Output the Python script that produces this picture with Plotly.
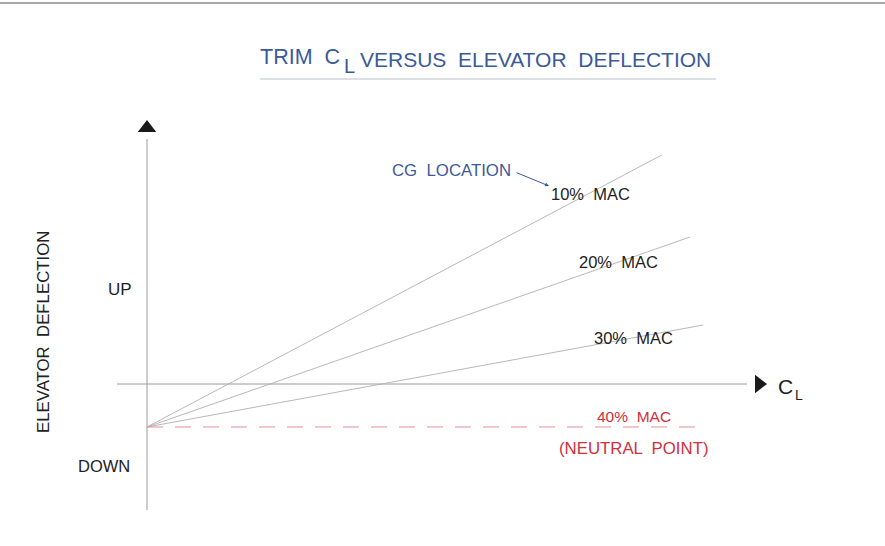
import plotly.graph_objects as go

# CG location series: lift coefficient end point and elevator deflection (arbitrary units)
cg_labels = ["10%  MAC", "20%  MAC", "30%  MAC", "40%  MAC"]
cl_start = [0.0, 0.0, 0.0, 0.0]
cl_end = [0.858, 0.905, 0.927, 0.932]
defl_start = [-0.43, -0.43, -0.43, -0.43]
defl_end = [2.29, 1.47, 0.59, -0.43]

W, H = 885, 546
# axis ranges (CL units horizontally, deflection units vertically)
x_rng = [-0.245, 1.23]
y_rng = [-1.62, 3.84]

fig = go.Figure()

AX = "#9a9a9a"
# coordinate axes
fig.add_trace(go.Scatter(x=[0, 0], y=[-1.26, 2.45], mode="lines",
                         line=dict(color=AX, width=1), hoverinfo="skip", showlegend=False))
fig.add_trace(go.Scatter(x=[-0.05, 1.0], y=[0, 0], mode="lines",
                         line=dict(color=AX, width=1), hoverinfo="skip", showlegend=False))
# arrow heads
fig.add_trace(go.Scatter(x=[0], y=[2.56], mode="markers",
                         marker=dict(symbol="triangle-up", size=16, color="#1a1a1a"),
                         hoverinfo="skip", showlegend=False))
fig.add_trace(go.Scatter(x=[1.02], y=[0], mode="markers",
                         marker=dict(symbol="triangle-right", size=16, color="#1a1a1a"),
                         hoverinfo="skip", showlegend=False))

for i, lab in enumerate(cg_labels):
    if i < 3:
        ln = dict(color="#b0b0b0", width=0.9)
    else:
        ln = dict(color="#e89090", width=1, dash="16px,12px")
    fig.add_trace(go.Scatter(x=[cl_start[i], cl_end[i]], y=[defl_start[i], defl_end[i]],
                             mode="lines", line=ln, hoverinfo="skip", showlegend=False))

FONT = "Liberation Sans, Arial, sans-serif"
BLUE = "#3b5a9a"
RED = "#d0303a"

def px2x(p):
    return x_rng[0] + (x_rng[1] - x_rng[0]) * p / W

def px2y(p):
    return y_rng[1] - (y_rng[1] - y_rng[0]) * p / H

ann = []
def add(text, px, py, color="#222", size=15, xanchor="left", angle=0):
    ann.append(dict(text=text, x=px2x(px), y=px2y(py), xref="x", yref="y",
                    showarrow=False, xanchor=xanchor, yanchor="middle", textangle=angle,
                    font=dict(family=FONT, size=size, color=color)))

add("10%  MAC", 549, 194, size=16.5)
add("20%  MAC", 577, 262, size=16.5)
add("30%  MAC", 592, 338, size=16.5)
add("40%  MAC", 595, 416, color=RED, size=15.5)
add("(NEUTRAL  POINT)", 557, 448, color=RED, size=16.8)
add("CG  LOCATION", 390, 170, color=BLUE, size=16.8)
add("UP", 106, 289, size=17)
add("DOWN", 76, 466, size=16.5)
add("ELEVATOR  DEFLECTION", 43, 332, size=16.8, xanchor="center", angle=-90)
add("C", 776, 386, size=21)
add("L", 793, 395, size=14)
# title
add("TRIM  C", 342, 57, color=BLUE, size=21.5, xanchor="right")
add("L", 342, 66, color=BLUE, size=20)
add("VERSUS  ELEVATOR  DEFLECTION", 358, 59, color=BLUE, size=21, xanchor="left")

# CG location pointer
ann.append(dict(x=px2x(549), y=px2y(186), ax=px2x(515), ay=px2y(172), xref="x", yref="y",
                axref="x", ayref="y", text="", showarrow=True, arrowhead=2, arrowsize=0.8,
                arrowwidth=1, arrowcolor=BLUE))

fig.update_layout(
    width=W, height=H,
    margin=dict(l=0, r=0, t=0, b=0),
    paper_bgcolor="white", plot_bgcolor="white",
    xaxis=dict(range=x_rng, visible=False, fixedrange=True),
    yaxis=dict(range=y_rng, visible=False, fixedrange=True),
    annotations=ann,
    shapes=[
        dict(type="line", xref="paper", yref="paper", x0=0, x1=1, y0=1 - 3 / H, y1=1 - 3 / H,
             line=dict(color="#a8a8a8", width=2)),
        dict(type="line", xref="x", yref="y", x0=px2x(260), x1=px2x(716), y0=px2y(79), y1=px2y(79),
             line=dict(color="#b8bfcc", width=1)),
    ],
)

fig.write_html("out.html", config={"displayModeBar": False},
               post_script="document.body.style.margin='0';document.body.style.overflow='hidden';")
